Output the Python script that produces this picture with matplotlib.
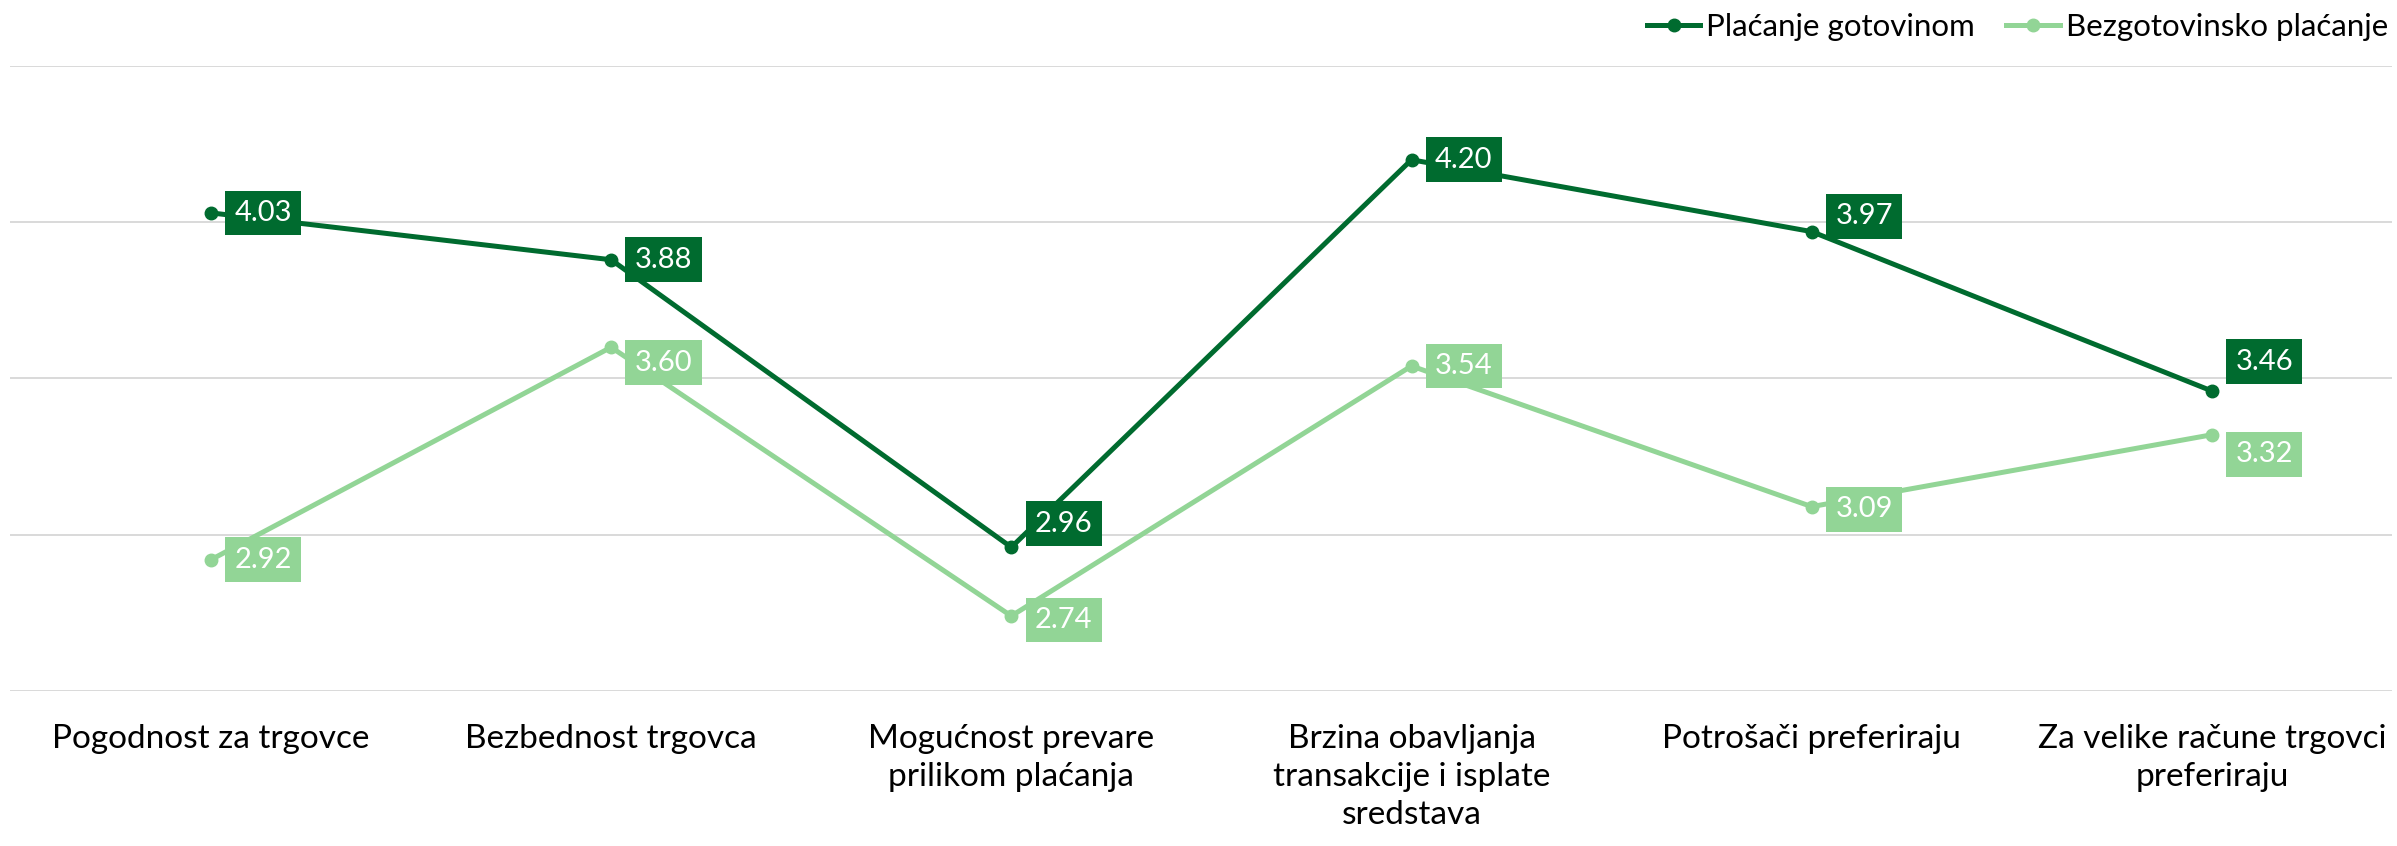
import numpy as np
import matplotlib.pyplot as plt

plt.rcParams['font.family'] = ['Lato', 'DejaVu Sans']

# categories and series
categories = ["Pogodnost za trgovce", "Bezbednost trgovca",
              "Mogućnost prevare\nprilikom plaćanja",
              "Brzina obavljanja\ntransakcije i isplate\nsredstava",
              "Potrošači preferiraju", "Za velike račune trgovci\npreferiraju"]
cash = [4.03, 3.88, 2.96, 4.20, 3.97, 3.46]
cashless = [2.92, 3.60, 2.74, 3.54, 3.09, 3.32]
series_names = ["Plaćanje gotovinom", "Bezgotovinsko plaćanje"]

dark = "#006B2F"
light = "#92D596"

# vertical nudge of the value boxes (points)
cash_dy = [0, 0, 17, 0, 11, 21]
cashless_dy = [0, -11, -3, 0, -2, -14]

fig = plt.figure(figsize=(23.97, 8.46), dpi=100)
ax = fig.add_axes([10/2397, 1 - 691/846, 2382/2397, (691 - 66)/846])

x = np.arange(len(categories))
ax.plot(x, cash, color=dark, lw=3.6, marker='o', ms=9, label=series_names[0], zorder=3)
ax.plot(x, cashless, color=light, lw=3.6, marker='o', ms=9, label=series_names[1], zorder=3)

for vals, dys, col in [(cash, cash_dy, dark), (cashless, cashless_dy, light)]:
    for xi, v, dy in zip(x, vals, dys):
        ax.annotate(f"{v:.2f}", (xi, v), xytext=(17, dy), textcoords='offset points',
                    ha='left', va='center', color='white', fontsize=21, zorder=5,
                    bbox=dict(boxstyle='square,pad=0.32', fc=col, ec='none'))

ax.set_xlim(-0.502, 5.45)
ax.set_ylim(2.5, 4.5)
ax.set_yticks([2.5, 3.0, 3.5, 4.0, 4.5])
ax.set_yticklabels([])
ax.grid(axis='y', color='#D9D9D9', lw=1.4)
ax.set_axisbelow(True)
ax.tick_params(axis='y', length=0)
ax.set_xticks(x)
ax.set_xticklabels(categories, fontsize=24, va='top', linespacing=1.32)
ax.tick_params(axis='x', length=0, pad=24)
for s in ax.spines.values():
    s.set_visible(False)

fig.legend(loc='upper right', bbox_to_anchor=(1.008, 1.018), ncol=2, frameon=False,
           fontsize=22.5, handlelength=1.7, handletextpad=0.2, columnspacing=1.0)

fig.savefig("out.png", dpi=100)
